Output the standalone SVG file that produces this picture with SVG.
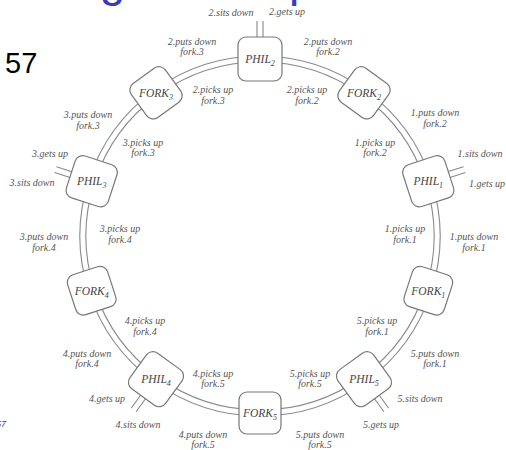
<svg xmlns="http://www.w3.org/2000/svg" width="506" height="450" viewBox="0 0 506 450">
<style>
.ring{fill:none;stroke:#888;stroke-width:1.1}
.stub{stroke:#888;stroke-width:1.1}
.box{fill:#fff;stroke:#777;stroke-width:1.2}
.nm{font-family:"Liberation Serif",serif;font-style:italic;font-size:11.5px;fill:#444;text-anchor:middle}
.sub{font-size:8px}
.lbl{font-family:"Liberation Serif",serif;font-style:italic;font-size:10px;fill:#555;text-anchor:middle}
</style>
<rect width="506" height="450" fill="#fff"/>
<text x="-5" y="-4" font-family="Liberation Sans,Arial,sans-serif" font-size="46" fill="#3a3ac0">Dining Philosophers</text>
<text x="5" y="73" font-family="Liberation Sans,Arial,sans-serif" font-size="29" fill="#000">57</text>
<text x="6" y="427" font-family="Liberation Sans,Arial,sans-serif" font-size="9" font-style="italic" fill="#3a3ac0" text-anchor="end">57</text>

<g id="connectors">
<path class="ring" d="M260 56A180 180 0 0 1 365.80 90.38M260 62A174 174 0 0 1 362.28 95.23"/>
<path class="ring" d="M365.80 90.38A180 180 0 0 1 431.20 180.38M362.28 95.23A174 174 0 0 1 425.49 182.23"/>
<path class="ring" d="M431.20 180.38A180 180 0 0 1 431.20 291.62M425.49 182.23A174 174 0 0 1 425.49 289.77"/>
<path class="ring" d="M431.20 291.62A180 180 0 0 1 365.80 381.62M425.49 289.77A174 174 0 0 1 362.28 376.77"/>
<path class="ring" d="M365.80 381.62A180 180 0 0 1 260 416M362.28 376.77A174 174 0 0 1 260 410"/>
<path class="ring" d="M260 416A180 180 0 0 1 154.20 381.62M260 410A174 174 0 0 1 157.72 376.77"/>
<path class="ring" d="M154.20 381.62A180 180 0 0 1 88.80 291.62M157.72 376.77A174 174 0 0 1 94.51 289.77"/>
<path class="ring" d="M88.80 291.62A180 180 0 0 1 88.80 180.38M94.51 289.77A174 174 0 0 1 94.51 182.23"/>
<path class="ring" d="M88.80 180.38A180 180 0 0 1 154.20 90.38M94.51 182.23A174 174 0 0 1 157.72 95.23"/>
<path class="ring" d="M154.20 90.38A180 180 0 0 1 260 56M157.72 95.23A174 174 0 0 1 260 62"/>
<path class="stub" d="M257 37V21M263 37V21"/>
<path class="stub" d="M450.1 177.4L465.3 172.4M448.3 171.6L463.5 166.7"/>
<path class="stub" d="M374.5 398.8L383.9 411.7M379.3 395.2L388.7 408.2"/>
<path class="stub" d="M140.6 395.2L131.2 408.2M145.5 398.8L136.1 411.7"/>
<path class="stub" d="M71.7 171.7L56.5 166.7M69.9 177.4L54.6 172.4"/>
</g>

<g id="PHIL2"><rect class="box" x="-22" y="-22" width="44" height="44" rx="8" transform="translate(260 59)"/><text class="nm" x="260" y="63">PHIL<tspan class="sub" dy="3">2</tspan></text></g>
<g id="FORK2"><rect class="box" x="-21" y="-21" width="42" height="42" rx="8" transform="translate(364 92.8) rotate(36)"/><text class="nm" x="364" y="96.5">FORK<tspan class="sub" dy="3">2</tspan></text></g>
<g id="PHIL1"><rect class="box" x="-22" y="-22" width="44" height="44" rx="8" transform="translate(428.3 181.3) rotate(-18)"/><text class="nm" x="428.3" y="185">PHIL<tspan class="sub" dy="3">1</tspan></text></g>
<g id="FORK1"><rect class="box" x="-21" y="-21" width="42" height="42" rx="8" transform="translate(428.3 290.7) rotate(18)"/><text class="nm" x="428.3" y="294.5">FORK<tspan class="sub" dy="3">1</tspan></text></g>
<g id="PHIL5"><rect class="box" x="-22" y="-22" width="44" height="44" rx="8" transform="translate(364 379.2) rotate(-36)"/><text class="nm" x="364" y="383">PHIL<tspan class="sub" dy="3">5</tspan></text></g>
<g id="FORK5"><rect class="box" x="-21" y="-21" width="42" height="42" rx="8" transform="translate(260 413)"/><text class="nm" x="260" y="417">FORK<tspan class="sub" dy="3">5</tspan></text></g>
<g id="PHIL4"><rect class="box" x="-22" y="-22" width="44" height="44" rx="8" transform="translate(156 379.2) rotate(36)"/><text class="nm" x="156" y="383">PHIL<tspan class="sub" dy="3">4</tspan></text></g>
<g id="FORK4"><rect class="box" x="-21" y="-21" width="42" height="42" rx="8" transform="translate(91.7 290.7) rotate(-18)"/><text class="nm" x="91.7" y="294.5">FORK<tspan class="sub" dy="3">4</tspan></text></g>
<g id="PHIL3"><rect class="box" x="-22" y="-22" width="44" height="44" rx="8" transform="translate(91.7 181.3) rotate(18)"/><text class="nm" x="91.7" y="185">PHIL<tspan class="sub" dy="3">3</tspan></text></g>
<g id="FORK3"><rect class="box" x="-21" y="-21" width="42" height="42" rx="8" transform="translate(156 92.8) rotate(-36)"/><text class="nm" x="156" y="96.5">FORK<tspan class="sub" dy="3">3</tspan></text></g>

<g id="labels">
<text class="lbl" x="231" y="16">2.sits down</text>
<text class="lbl" x="287" y="15">2.gets up</text>
<text class="lbl" x="192" y="45">2.puts down<tspan x="192" y="55">fork.3</tspan></text>
<text class="lbl" x="213" y="93">2.picks up<tspan x="213" y="104">fork.3</tspan></text>
<text class="lbl" x="88" y="118">3.puts down<tspan x="88" y="129">fork.3</tspan></text>
<text class="lbl" x="143" y="146">3.picks up<tspan x="143" y="156">fork.3</tspan></text>
<text class="lbl" x="328" y="45">2.puts down<tspan x="328" y="55">fork.2</tspan></text>
<text class="lbl" x="307" y="93">2.picks up<tspan x="307" y="104">fork.2</tspan></text>
<text class="lbl" x="435" y="116">1.puts down<tspan x="435" y="127">fork.2</tspan></text>
<text class="lbl" x="375" y="146">1.picks up<tspan x="375" y="156">fork.2</tspan></text>
<text class="lbl" x="480" y="157">1.sits down</text>
<text class="lbl" x="487" y="187">1.gets up</text>
<text class="lbl" x="50" y="157">3.gets up</text>
<text class="lbl" x="32" y="186">3.sits down</text>
<text class="lbl" x="44" y="240">3.puts down<tspan x="44" y="251">fork.4</tspan></text>
<text class="lbl" x="120" y="232">3.picks up<tspan x="120" y="243">fork.4</tspan></text>
<text class="lbl" x="405" y="232">1.picks up<tspan x="405" y="243">fork.1</tspan></text>
<text class="lbl" x="474" y="240">1.puts down<tspan x="474" y="251">fork.1</tspan></text>
<text class="lbl" x="145" y="324">4.picks up<tspan x="145" y="335">fork.4</tspan></text>
<text class="lbl" x="87" y="357">4.puts down<tspan x="87" y="367">fork.4</tspan></text>
<text class="lbl" x="213" y="377">4.picks up<tspan x="213" y="387">fork.5</tspan></text>
<text class="lbl" x="107" y="402">4.gets up</text>
<text class="lbl" x="138" y="428">4.sits down</text>
<text class="lbl" x="203" y="438">4.puts down<tspan x="203" y="448">fork.5</tspan></text>
<text class="lbl" x="377" y="324">5.picks up<tspan x="377" y="335">fork.1</tspan></text>
<text class="lbl" x="435" y="357">5.puts down<tspan x="435" y="367">fork.1</tspan></text>
<text class="lbl" x="310" y="377">5.picks up<tspan x="310" y="387">fork.5</tspan></text>
<text class="lbl" x="420" y="402">5.sits down</text>
<text class="lbl" x="381" y="428">5.gets up</text>
<text class="lbl" x="320" y="438">5.puts down<tspan x="320" y="448">fork.5</tspan></text>
</g>
</svg>
